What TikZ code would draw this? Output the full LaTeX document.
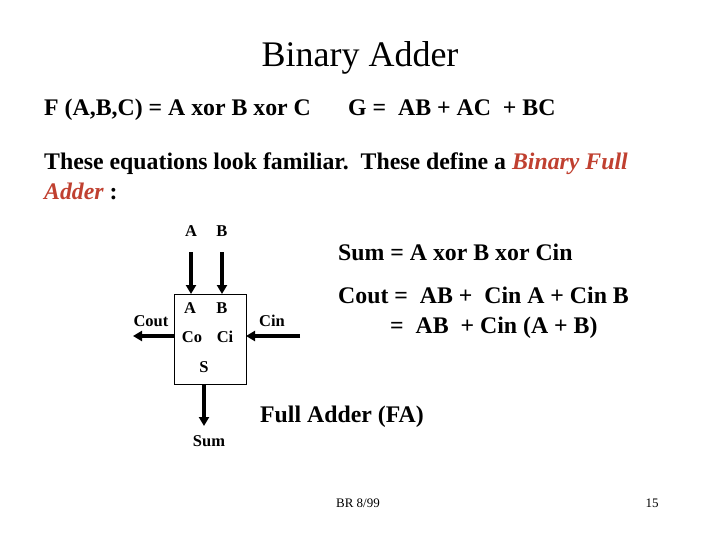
\documentclass[tikz,border=0pt]{standalone}
\usepackage{fontspec}
\setmainfont{Liberation Serif}
\usetikzlibrary{arrows.meta}
\definecolor{adderred}{RGB}{192,64,48}
\begin{document}
\begin{tikzpicture}[x=1pt,y=-1pt,
  txt/.style={anchor=base west,inner sep=0,font=\fontsize{23.8}{28}\selectfont\bfseries},
  lbl/.style={inner sep=0,font=\fontsize{16.5}{19}\selectfont\bfseries},
  arr/.style={line width=3.5pt,-{Triangle[length=9pt,width=10pt]}}]
\useasboundingbox (0,0) rectangle (720,540);
\node[inner sep=0,font=\fontsize{36}{40}\selectfont] (title) at (360,58) {Binary Adder};
\node[txt] (f) at (44,116) {F (A,B,C) = A xor B xor C};
\node[txt] (g) at (348,116) {G =\enspace AB + AC\enspace + BC};
\node[txt] (t1) at (44,170) {These equations look familiar.\enspace These define a \textcolor{adderred}{\itshape Binary Full}};
\node[txt] (t2) at (44,200) {\textcolor{adderred}{\itshape Adder} :};
\node[txt] (s1) at (338,260) {Sum = A xor B xor Cin};
\node[txt] (c1) at (338,303) {Cout =\enspace AB +\enspace Cin A + Cin B};
\node[txt] (c2) at (390,333) {=\enspace AB\enspace + Cin (A + B)};
\node[txt] (fa) at (260,422) {Full Adder (FA)};
\node[inner sep=0,font=\fontsize{13}{15}\selectfont] (br) at (358,503) {BR 8/99};
\node[inner sep=0,font=\fontsize{13}{15}\selectfont] (pg) at (652,503) {15};
\node[draw,line width=0.6pt,minimum width=72pt,minimum height=90pt,inner sep=0] (box) at (210,339) {};
\node[lbl] (ia) at (191,231) {A};
\node[lbl] (ib) at (222,231) {B};
\node[lbl] (ba) at (190,308) {A};
\node[lbl] (bb) at (222,308) {B};
\node[lbl] (co) at (192,337) {Co};
\node[lbl] (ci) at (225,337) {Ci};
\node[lbl] (bs) at (204,367) {S};
\node[lbl] (cout) at (151,321) {Cout};
\node[lbl] (cin) at (272,321) {Cin};
\node[lbl] (sum) at (209,441) {Sum};
\coordinate (pa) at (191,294); \coordinate (pb) at (222,294);
\draw[arr] (191,252) -- (pa);
\draw[arr] (222,252) -- (pb);
\coordinate (pco) at (174,336); \coordinate (pci) at (246,336);
\draw[arr] (pco) -- (133,336);
\draw[arr] (300,336) -- (pci);
\coordinate (ps) at (204,384);
\draw[arr] (ps) -- (204,426);
\end{tikzpicture}
\end{document}
